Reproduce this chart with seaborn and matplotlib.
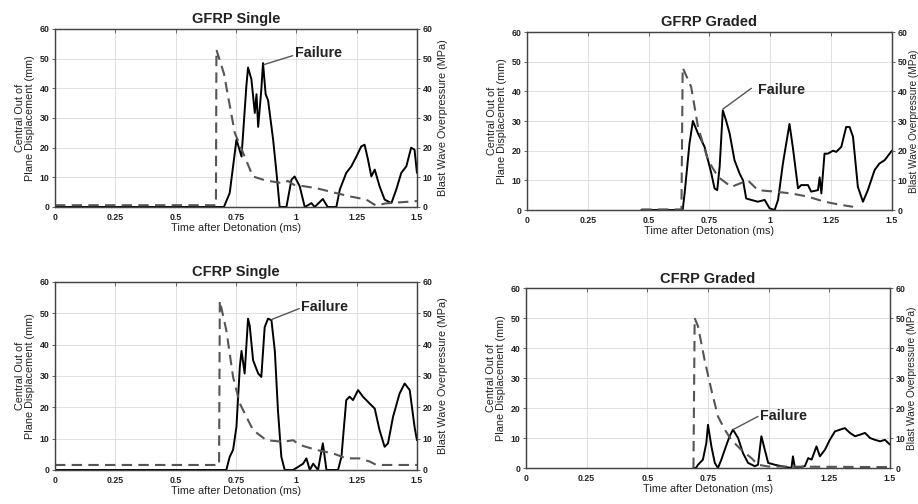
import numpy as np
import pandas as pd
import matplotlib
matplotlib.use("Agg")
import matplotlib.pyplot as plt
import seaborn as sns

# ---- data (time in ms, values in mm / MPa) ----
titles = ["GFRP Single", "GFRP Graded", "CFRP Single", "CFRP Graded"]

xticks = [0, 0.25, 0.5, 0.75, 1, 1.25, 1.5]
xtick_labels = ["0", "0.25", "0.5", "0.75", "1", "1.25", "1.5"]
yticks = [0, 10, 20, 30, 40, 50, 60]

# GFRP Single
gs_disp_t = [0, 0.70, 0.724, 0.752, 0.773, 0.793, 0.80, 0.814, 0.828, 0.835, 0.842,
             0.855, 0.862, 0.873, 0.883, 0.904, 0.918, 0.931, 0.959, 0.98, 0.993,
             1.014, 1.035, 1.063, 1.076, 1.11, 1.13, 1.166, 1.18, 1.207, 1.228,
             1.249, 1.269, 1.283, 1.297, 1.311, 1.325, 1.345, 1.366, 1.394, 1.414,
             1.435, 1.456, 1.476, 1.49, 1.5]
gs_disp = [0, 0, 4.7, 22.7, 17, 40.7, 47, 43, 31.7, 38, 27,
           39.5, 48.5, 38, 36, 22.7, 11.5, 0, 0, 9.2, 10.3,
           7, 0, 1.3, 0, 2.7, 0, 0, 5.8, 11.5, 13.7,
           17, 20.4, 21, 16, 10.3, 12.6, 7, 2.5, 1.3, 5.8,
           11.5, 13.7, 20, 19.3, 11.5]
gs_pres_t = [0, 0.667, 0.669, 0.70, 0.745, 0.82, 0.87, 0.945, 0.965, 0.99, 1.08,
             1.22, 1.29, 1.33, 1.37, 1.5]
gs_pres = [0.6, 0.6, 53, 45, 25, 10.3, 9, 8, 8.8, 7.5, 6.4,
           3.6, 2.5, 0.5, 1.2, 2]

# GFRP Graded
gg_disp_t = [0.47, 0.64, 0.648, 0.668, 0.682, 0.692, 0.703, 0.73, 0.758, 0.771,
             0.782, 0.792, 0.805, 0.819, 0.833, 0.853, 0.874, 0.888, 0.901, 0.922,
             0.949, 0.977, 0.997, 1.018, 1.032, 1.052, 1.079, 1.093, 1.114, 1.127,
             1.155, 1.168, 1.196, 1.203, 1.21, 1.223, 1.237, 1.258, 1.271, 1.292,
             1.312, 1.326, 1.34, 1.36, 1.381, 1.401, 1.429, 1.449, 1.47, 1.5]
gg_disp = [0, 0, 5.6, 22.4, 30, 28, 25.8, 21.3, 12.3, 7.3,
           6.7, 14.6, 33.6, 30, 25.8, 16.8, 12.3, 10, 3.9, 3.4,
           2.8, 3.4, 0.6, 0, 3.4, 15.7, 29, 21, 7.3, 8.4,
           8.4, 6.2, 6.7, 11, 5.6, 19, 19, 20, 19.6, 21.3,
           28, 28, 24.7, 7.8, 2.8, 6.7, 13.5, 15.7, 16.8, 20]
gg_pres_t = [0.47, 0.635, 0.64, 0.675, 0.703, 0.744, 0.785, 0.84, 0.908, 0.949,
             1.018, 1.086, 1.155, 1.223, 1.292, 1.34]
gg_pres = [0.2, 0.2, 48, 41.5, 28, 16.8, 11.2, 7.8, 10, 6.7,
           6.2, 5.6, 4.5, 2.8, 1.7, 1.1]

# CFRP Single
cs_disp_t = [0, 0.71, 0.724, 0.738, 0.752, 0.766, 0.773, 0.786, 0.80, 0.807,
             0.821, 0.842, 0.855, 0.869, 0.883, 0.897, 0.911, 0.924, 0.938, 0.952,
             0.987, 1.008, 1.028, 1.042, 1.056, 1.07, 1.09, 1.11, 1.125, 1.173,
             1.187, 1.207, 1.221, 1.235, 1.256, 1.276, 1.304, 1.325, 1.345, 1.366,
             1.38, 1.401, 1.428, 1.449, 1.47, 1.49, 1.5]
cs_disp = [0, 0, 4.2, 6.4, 13.8, 33, 38, 30.8, 48.3, 46,
           35, 30.8, 29.7, 45.6, 48.3, 47.8, 38, 19, 4.2, 0,
           0, 1, 2, 3.7, 0, 2, 0, 8.5, 0, 0,
           4.2, 22.3, 23.4, 22.3, 25.5, 23.4, 21.2, 19.6, 12.7, 7.4,
           8.5, 17, 24.4, 27.6, 25.5, 13.8, 9.5]
cs_pres_t = [0, 0.68, 0.683, 0.71, 0.738, 0.766, 0.821, 0.876, 0.945, 0.987,
             1.014, 1.083, 1.152, 1.207, 1.262, 1.304, 1.332, 1.5]
cs_pres = [1.6, 1.6, 54, 44.6, 29.7, 21.2, 12.7, 9.5, 9, 9.5,
           8, 6.4, 5.3, 3.7, 3.7, 2.7, 1.6, 1.6]

# CFRP Graded
cg_disp_t = [0.69, 0.70, 0.709, 0.729, 0.743, 0.75, 0.764, 0.778, 0.791, 0.805,
             0.819, 0.839, 0.853, 0.874, 0.894, 0.915, 0.943, 0.956, 0.97, 0.984,
             0.998, 1.025, 1.053, 1.094, 1.10, 1.108, 1.149, 1.163, 1.177, 1.197,
             1.211, 1.232, 1.252, 1.273, 1.294, 1.314, 1.335, 1.356, 1.376, 1.397,
             1.418, 1.438, 1.459, 1.479, 1.5]
cg_disp = [0, 0, 1.1, 2.8, 8.3, 14.4, 7.2, 1.7, 0, 2.8,
           6.1, 10.6, 12.8, 10, 5, 1.7, 0.6, 1.1, 10.6, 6.1,
           1.7, 1.1, 0.6, 0, 3.9, 0, 0.6, 3.3, 2.8, 7.2,
           3.9, 6.1, 9.4, 12.2, 12.8, 13.3, 11.7, 10.6, 11.1, 11.7,
           10, 9.4, 8.9, 9.4, 7.8]
cg_pres_t = [0.69, 0.695, 0.709, 0.736, 0.764, 0.791, 0.819, 0.846, 0.888, 0.929,
             0.956, 0.998, 1.5]
cg_pres = [0, 50, 47.2, 36, 26, 17.2, 12.8, 9.4, 6, 3.3,
           1.1, 0.5, 0.3]

disp_series = [(gs_disp_t, gs_disp), (gg_disp_t, gg_disp),
               (cs_disp_t, cs_disp), (cg_disp_t, cg_disp)]
pres_series = [(gs_pres_t, gs_pres), (gg_pres_t, gg_pres),
               (cs_pres_t, cs_pres), (cg_pres_t, cg_pres)]

# "Failure" label position and the point its leader line goes to
fail_text = [(1.09, 52), (1.045, 40.4), (1.118, 52), (1.06, 17.4)]
fail_from = [(0.985, 51), (0.922, 41), (1.012, 51.5), (0.956, 17.2)]
fail_to = [(0.866, 48), (0.805, 34), (0.897, 48), (0.853, 12.8)]

# ---- figure ----
sns.set_style("white")
plt.rcParams["font.family"] = ["Liberation Sans", "DejaVu Sans"]

fig = plt.figure(figsize=(9.18, 5.04), dpi=100)
rects = [[0.0599, 0.5893, 0.3943, 0.3532],
         [0.574, 0.5833, 0.3976, 0.3532],
         [0.0599, 0.0675, 0.3943, 0.373],
         [0.573, 0.0714, 0.3965, 0.357]]

txt = "#222222"

for i in range(4):
    ax = fig.add_axes(rects[i])
    ax2 = ax.twinx()

    t, d = disp_series[i]
    sns.lineplot(x=t, y=d, ax=ax, color="black", linewidth=1.4, estimator=None,
                 sort=False)
    tp, p = pres_series[i]
    sns.lineplot(x=tp, y=p, ax=ax2, color="#555555", linewidth=1.5,
                 linestyle=(0, (5, 3)), estimator=None, sort=False)

    for a in (ax, ax2):
        a.set_ylim(0, 60)
        a.set_yticks(yticks)
        a.set_yticklabels([str(v) for v in yticks], fontsize=6.3,
                          fontweight="bold", color=txt)
        a.tick_params(axis="y", direction="out", length=2.5, width=0.7, pad=1.5,
                      color="#666666")
    ax.set_xlim(0, 1.5)
    ax.set_xticks(xticks)
    ax.set_xticklabels(xtick_labels, fontsize=6.3, fontweight="bold", color=txt)
    ax.tick_params(axis="x", top=True, direction="in", length=3, width=0.7,
                   pad=4, color="#666666")
    ax.grid(True, color="#dcdcdc", linewidth=0.6)
    ax.set_axisbelow(True)

    for sp in list(ax.spines.values()) + list(ax2.spines.values()):
        sp.set_color("#444444")
        sp.set_linewidth(0.9)

    ax.set_title(titles[i], fontsize=10.5, fontweight="bold", pad=4, color=txt)
    ax.set_xlabel("Time after Detonation (ms)", fontsize=7.8, labelpad=1,
                  color=txt)
    ax.set_ylabel("Central Out of\nPlane Displacement (mm)", fontsize=7.8,
                  labelpad=3, linespacing=1.05, color=txt)
    # right-hand column sits against the figure edge, keep its label inside
    if i % 2 == 1:
        ax2.set_ylabel("Blast Wave Overpressure (MPa)", fontsize=7.2,
                       labelpad=1, color=txt)
    else:
        ax2.set_ylabel("Blast Wave Overpressure (MPa)", fontsize=7.8,
                       labelpad=4, color=txt)

    ax.plot([fail_from[i][0], fail_to[i][0]], [fail_from[i][1], fail_to[i][1]],
            color="#555555", linewidth=1.0)
    ax.text(fail_text[i][0], fail_text[i][1], "Failure", fontsize=10.3,
            fontweight="bold", ha="center", va="center", color=txt)

fig.savefig("out.png", dpi=100)
